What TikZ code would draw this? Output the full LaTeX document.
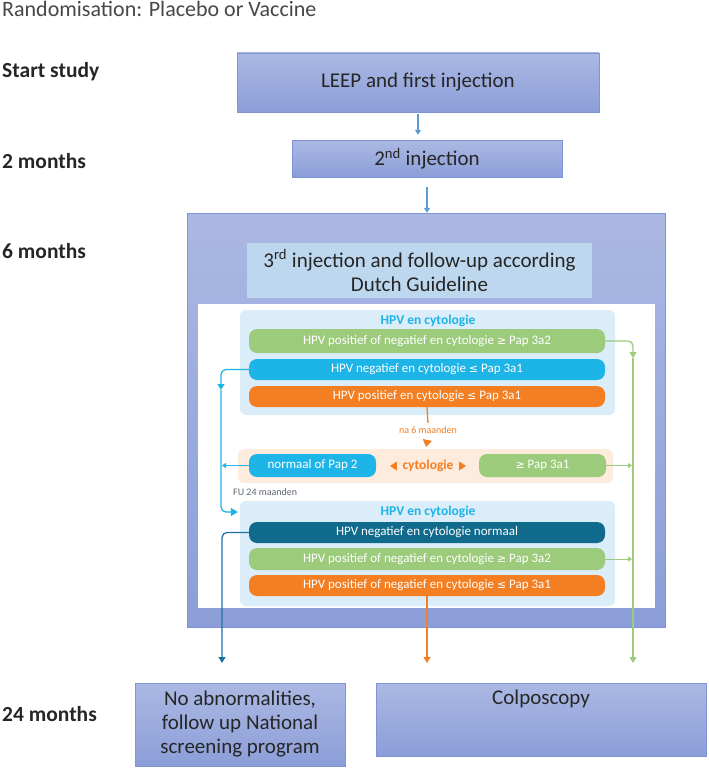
\documentclass[tikz,border=0pt]{standalone}
\usepackage{fontspec}
\setmainfont{Carlito}
\newfontfamily\symfont{DejaVu Sans}
\usepackage{tikz}
\usetikzlibrary{arrows.meta, positioning}
\definecolor{boxtop}{HTML}{ABB8E3}
\definecolor{boxbot}{HTML}{8B9ED8}
\definecolor{boxline}{HTML}{7E94D6}
\definecolor{titlefill}{HTML}{BDD7EE}
\definecolor{flowblue}{HTML}{5B9BD5}
\definecolor{hpvgreen}{HTML}{9CCB7C}
\definecolor{hpvcyan}{HTML}{1DB4E8}
\definecolor{hpvorange}{HTML}{F47E22}
\definecolor{hpvteal}{HTML}{106A8B}
\definecolor{tealdown}{HTML}{1F6FA6}
\definecolor{panelblue}{HTML}{DCEDFA}
\definecolor{panelpeach}{HTML}{FDEBDD}
\definecolor{inktext}{HTML}{262626}
\definecolor{graytext}{HTML}{5F6670}
\newcommand{\fsz}[2]{\fontsize{#1pt}{#2pt}\selectfont}
\newcommand{\papge}{{\symfont\fontsize{11pt}{13pt}\selectfont ≥}}
\newcommand{\paple}{{\symfont\fontsize{11pt}{13pt}\selectfont ≤}}

\begin{document}
\begin{tikzpicture}[x=1pt, y=-1pt,
    lbl/.style={anchor=west, font=\fsz{21.5}{24}\bfseries, text=inktext, inner sep=0},
    stage/.style={rectangle, draw=boxline, top color=boxtop, bottom color=boxbot,
                  font=\fsz{21}{24}, text=inktext, align=center, inner sep=0},
    panel/.style={rectangle, rounded corners=6pt, inner sep=0, minimum width=375pt},
    bar/.style={rectangle, rounded corners=8pt, inner sep=0, minimum width=356pt,
                minimum height=21pt, text=white, font=\fsz{13}{15}},
    flow/.style={-{Triangle[length=5pt,width=6pt]}, line width=1.2pt, color=flowblue},
    rail/.style={line width=1.3pt, rounded corners=5pt},
    railtip/.style={-{Triangle[length=6pt,width=7pt]}},
    sidetip/.style={line width=0.8pt, -{Triangle[length=4pt,width=5pt]}, shorten >=1pt}
  ]
    \useasboundingbox (0,0) rectangle (709,768);

    % time line on the left
    \node[anchor=west, font=\fsz{22}{24}, text=inktext!85, inner sep=0] (random) at (2,9) {Randomisation: Placebo or Vaccine};
    \node[lbl] (tstart) at (2,72)  {Start study};
    \node[lbl] (ttwo)   at (2,161) {2 months};
    \node[lbl] (tsix)   at (2,251) {6 months};
    \node[lbl] (tend)   at (2,714) {24 months};

    % study steps
    \node[stage, minimum width=362pt, minimum height=59pt] (leep) at (418,82.5) {LEEP and first injection};
    \node[stage, minimum width=270pt, minimum height=37pt] (second) at (427,158.5) {2\textsuperscript{nd} injection};
    \node[stage, minimum width=478pt, minimum height=414pt] (trial) at (426,420) {};
    \node[rectangle, fill=titlefill, minimum width=345pt, minimum height=55pt, inner sep=0,
          font=\fsz{21}{24}, text=inktext, align=center] (third) at (419.5,270.5)
          {3\textsuperscript{rd} injection and follow-up according\\Dutch Guideline};
    \node[rectangle, fill=white, minimum width=457pt, minimum height=304pt, inner sep=0] (guide) at (426.5,456) {};

    \draw[flow, shorten <=2pt, shorten >=5pt] (leep.south) -- (leep.south |- second.north);
    \draw[flow, shorten <=10pt] (second.south) -- (second.south |- trial.north);

    % guideline: first check
    \node[panel, fill=panelblue, minimum height=105pt] (firstcheck) at (427.5,362.5) {};
    \node[font=\fsz{13.5}{15}\bfseries, text=hpvcyan] (firsttitle) at (428,321) {HPV en cytologie};
    \node[bar, fill=hpvgreen, minimum height=24pt] (firstgreen) at (427,341) {HPV positief of negatief en cytologie \papge{} Pap 3a2};
    \node[bar, fill=hpvcyan] (firstcyan) at (427,369.5) {HPV negatief en cytologie \paple{} Pap 3a1};
    \node[bar, fill=hpvorange] (firstorange) at (427,396.5) {HPV positief en cytologie \paple{} Pap 3a1};

    % cytology after 6 months
    \node[font=\fsz{10}{12}, text=hpvorange] (wait) at (428,430) {na 6 maanden};
    \node[panel, fill=panelpeach, minimum height=34pt] (cytopanel) at (425.5,466) {};
    \node[bar, fill=hpvcyan, minimum width=127pt, minimum height=23pt] (normal) at (312.5,465.5) {normaal of Pap 2};
    \node[font=\fsz{13.5}{15}\bfseries, text=hpvorange] (cyto) at (428,466) {cytologie};
    \node[bar, fill=hpvgreen, minimum width=127pt, minimum height=23pt] (worse) at (542.5,465.5) {\papge{} Pap 3a1};
    \fill[hpvorange] ([xshift=-9pt]cyto.west) -- ++(7,-4.5) -- ++(0,9) -- cycle;
    \fill[hpvorange] ([xshift=9pt]cyto.east) -- ++(-7,-4.5) -- ++(0,9) -- cycle;
    \node[anchor=west, font=\fsz{10}{12}, text=graytext, inner sep=0] (followup) at (233,492) {FU 24 maanden};

    % guideline: second check
    \node[panel, fill=panelblue, minimum height=105pt] (secondcheck) at (427.5,553.5) {};
    \node[font=\fsz{13.5}{15}\bfseries, text=hpvcyan] (secondtitle) at (428,512) {HPV en cytologie};
    \node[bar, fill=hpvteal] (secondteal) at (427,532.5) {HPV negatief en cytologie normaal};
    \node[bar, fill=hpvgreen, minimum height=22pt] (secondgreen) at (427,559) {HPV positief of negatief en cytologie \papge{} Pap 3a2};
    \node[bar, fill=hpvorange] (secondorange) at (427,585.5) {HPV positief of negatief en cytologie \paple{} Pap 3a1};

    % outcomes
    \node[stage, minimum width=210pt, minimum height=83pt] (noabn) at (240,724.5) {No abnormalities,\\follow up National\\screening program};
    \node[stage, minimum width=330pt, minimum height=73pt] (colpo) at (541,719.5) {};
    \node[below=7pt of colpo.north, font=\fsz{21}{24}, text=inktext, inner sep=0] (colpotext) {Colposcopy};

    % connectors
    \coordinate (cydrop) at (221,390);
    \coordinate (grdrop) at (633,358);
    \coordinate (grend)  at (633,663);
    \coordinate (tlend)  at (222,663);
    \coordinate (orend)  at (427,663);

    \draw[rail, hpvcyan, railtip] (firstcyan.west) -| (cydrop);
    \draw[rail, hpvcyan, -{Triangle[length=7pt,width=8pt]}, shorten >=2pt] (cydrop) |- (secondcheck.west |- secondtitle);
    \draw[hpvcyan, sidetip] (normal.west) -- (normal.west -| cydrop);

    \draw[rail, hpvgreen, railtip] (firstgreen.east) -| (grdrop);
    \draw[rail, hpvgreen, railtip] (grdrop) -- (grend);
    \draw[hpvgreen, sidetip] (worse.east) -- (worse.east -| grdrop);
    \draw[hpvgreen, sidetip] (secondgreen.east) -- (secondgreen.east -| grdrop);

    \draw[rail, hpvorange] (firstorange.south) -- (wait.north);
    \draw[hpvorange, -{Triangle[length=7pt,width=9pt]}, shorten <=3pt, shorten >=2pt] (wait.south) -- (cytopanel.north);
    \draw[rail, hpvorange, railtip] (secondorange.south) -- (orend);

    \draw[rail, tealdown, railtip] (secondteal.west) -| (tlend);
  \end{tikzpicture}
\end{document}
